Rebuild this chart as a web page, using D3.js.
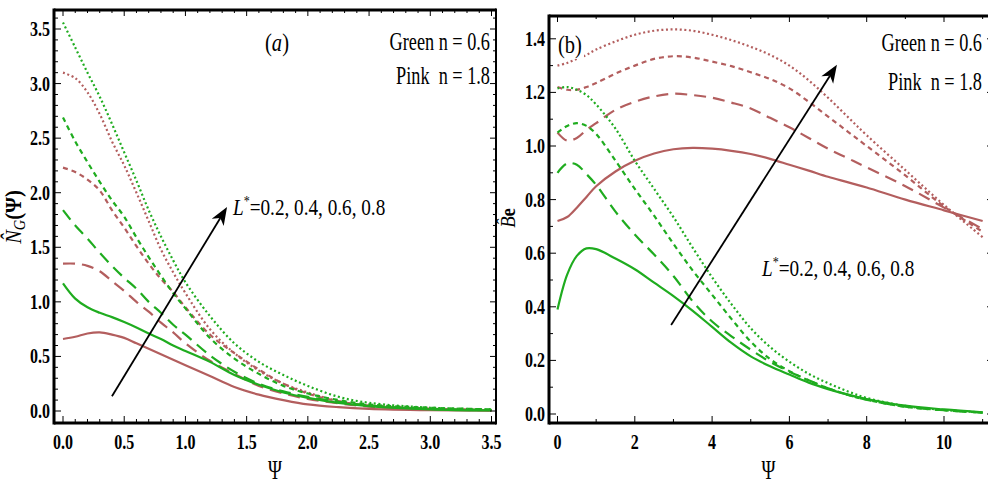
<!DOCTYPE html>
<html>
<head>
<meta charset="utf-8">
<script src="https://cdn.jsdelivr.net/npm/d3@7"></script>
<style>
  body { margin: 0; background: #fff; }
  svg { display: block; }
</style>
</head>
<body>
<div id="chart"></div>
<script>
// ---- panel (a): entropy generation N_G vs psi ----
var psiA = [0, 0.1, 0.2, 0.3, 0.4, 0.5, 0.6, 0.7, 0.8, 0.9, 1.0, 1.2, 1.4, 1.6, 1.8, 2.0, 2.25, 2.5, 3.0, 3.5];
var ngGreen02 = [1.17, 1.03, 0.95, 0.90, 0.86, 0.815, 0.765, 0.71, 0.66, 0.60, 0.55, 0.45, 0.33, 0.24, 0.17, 0.12, 0.075, 0.045, 0.015, 0.005];
var ngGreen04 = [1.84, 1.70, 1.58, 1.45, 1.33, 1.22, 1.12, 1.00, 0.90, 0.79, 0.70, 0.51, 0.36, 0.25, 0.18, 0.13, 0.085, 0.05, 0.02, 0.01];
var ngGreen06 = [2.69, 2.47, 2.28, 2.10, 1.93, 1.78, 1.59, 1.41, 1.24, 1.08, 0.94, 0.67, 0.48, 0.34, 0.23, 0.16, 0.10, 0.06, 0.03, 0.015];
var ngGreen08 = [3.56, 3.33, 3.10, 2.88, 2.63, 2.37, 2.11, 1.84, 1.60, 1.38, 1.18, 0.87, 0.62, 0.45, 0.33, 0.23, 0.13, 0.075, 0.03, 0.015];
var ngPink02 = [0.66, 0.68, 0.71, 0.72, 0.70, 0.67, 0.62, 0.57, 0.52, 0.47, 0.42, 0.32, 0.22, 0.15, 0.10, 0.06, 0.035, 0.02, 0.008, 0.003];
var ngPink04 = [1.35, 1.35, 1.33, 1.28, 1.19, 1.10, 1.00, 0.91, 0.81, 0.72, 0.62, 0.46, 0.34, 0.23, 0.16, 0.11, 0.07, 0.04, 0.015, 0.006];
var ngPink06 = [2.23, 2.19, 2.12, 2.02, 1.84, 1.68, 1.51, 1.35, 1.21, 1.09, 0.95, 0.70, 0.53, 0.38, 0.25, 0.16, 0.09, 0.05, 0.02, 0.008];
var ngPink08 = [3.10, 3.05, 2.92, 2.72, 2.47, 2.25, 2.00, 1.74, 1.48, 1.27, 1.08, 0.75, 0.53, 0.37, 0.25, 0.17, 0.09, 0.05, 0.02, 0.008];

// ---- panel (b): Bejan number vs psi ----
var psiB = [0, 0.25, 0.5, 0.75, 1, 1.5, 2, 2.5, 3, 3.5, 4, 4.5, 5, 5.5, 6, 6.5, 7, 7.5, 8, 9, 10, 11];
var beGreen02 = [0.39, 0.52, 0.59, 0.618, 0.615, 0.58, 0.54, 0.49, 0.44, 0.385, 0.325, 0.265, 0.215, 0.178, 0.147, 0.117, 0.093, 0.073, 0.056, 0.031, 0.017, 0.006];
var beGreen04 = [0.90, 0.935, 0.93, 0.895, 0.855, 0.755, 0.67, 0.595, 0.515, 0.42, 0.345, 0.29, 0.24, 0.195, 0.158, 0.126, 0.096, 0.072, 0.053, 0.027, 0.014, 0.005];
var beGreen06 = [1.05, 1.075, 1.085, 1.075, 1.045, 0.945, 0.84, 0.74, 0.635, 0.535, 0.445, 0.355, 0.27, 0.205, 0.16, 0.125, 0.096, 0.072, 0.053, 0.027, 0.014, 0.005];
var beGreen08 = [1.215, 1.22, 1.21, 1.19, 1.155, 1.065, 0.945, 0.84, 0.735, 0.62, 0.51, 0.41, 0.32, 0.25, 0.195, 0.15, 0.115, 0.085, 0.06, 0.03, 0.015, 0.006];
var bePink02 = [0.72, 0.735, 0.77, 0.81, 0.85, 0.905, 0.945, 0.972, 0.988, 0.993, 0.99, 0.982, 0.97, 0.952, 0.93, 0.908, 0.885, 0.865, 0.845, 0.80, 0.76, 0.72];
var bePink04 = [1.05, 1.02, 1.03, 1.06, 1.085, 1.135, 1.165, 1.185, 1.195, 1.19, 1.18, 1.162, 1.14, 1.105, 1.07, 1.03, 0.99, 0.955, 0.92, 0.85, 0.77, 0.69];
var bePink06 = [1.22, 1.21, 1.21, 1.22, 1.235, 1.27, 1.30, 1.325, 1.335, 1.33, 1.315, 1.298, 1.275, 1.25, 1.215, 1.165, 1.11, 1.055, 1.0, 0.89, 0.775, 0.68];
var bePink08 = [1.30, 1.31, 1.325, 1.34, 1.36, 1.39, 1.415, 1.43, 1.435, 1.43, 1.415, 1.395, 1.37, 1.34, 1.30, 1.245, 1.18, 1.11, 1.04, 0.91, 0.78, 0.66];

// ticks
var xTicksA = [0, 0.5, 1.0, 1.5, 2.0, 2.5, 3.0, 3.5];
var yTicksA = [0, 0.5, 1.0, 1.5, 2.0, 2.5, 3.0, 3.5];
var xTicksB = [0, 2, 4, 6, 8, 10];
var yTicksB = [0, 0.2, 0.4, 0.6, 0.8, 1.0, 1.2, 1.4];

// annotation texts and arrow ends (data coords)
var legendLines = ["Green n = 0.6", "Pink  n = 1.8"];
var lValues = "=0.2, 0.4, 0.6, 0.8";
var arrowA = [[0.40, 0.135], [1.34, 1.87]];
var arrowB = [[2.94, 0.332], [7.23, 1.303]];

var green = "#1fac1f", pink = "#b35e5e";
var serif = "'Liberation Serif', 'Times New Roman', serif";
// L* = 0.2 solid, 0.4 long dash, 0.6 short dash, 0.8 dotted
var dashes = [null, "12,7", "5,4", "2,2.6"];

var width = 988, height = 485;
var svg = d3.select("#chart").append("svg")
    .attr("width", width)
    .attr("height", height)
    .style("background", "#fff");

function txt(parent, x, y, str, o) {
  o = o || {};
  var g = parent.append("g").attr("transform", "translate(" + x + "," + y + ")" + (o.rotate ? " rotate(" + o.rotate + ")" : ""));
  var t = g.append("text")
    .attr("transform", "scale(" + (o.sx || 0.8) + ",1)")
    .attr("text-anchor", o.anchor || "start")
    .style("font-family", serif)
    .style("font-size", (o.size || 19) + "px")
    .style("font-weight", o.bold ? "bold" : "normal")
    .style("font-style", o.italic ? "italic" : "normal")
    .attr("fill", "#000");
  if (str != null) t.text(str);
  return t;
}

function drawPanel(p) {
  var x = d3.scaleLinear().domain(p.xDomain).range(p.xRange);
  var y = d3.scaleLinear().domain(p.yDomain).range(p.yRange);
  var g = svg.append("g");

  var line = d3.line()
    .x(function(d) { return x(d[0]); })
    .y(function(d) { return y(d[1]); })
    .curve(d3.curveCatmullRom.alpha(0.5));

  // curves
  p.series.forEach(function(s) {
    g.append("path")
      .datum(p.psi.map(function(v, i) { return [v, s.values[i]]; }))
      .attr("d", line)
      .attr("fill", "none")
      .attr("stroke", s.color)
      .attr("stroke-width", 2.2)
      .attr("stroke-dasharray", dashes[s.style]);
  });

  var f = p.frame;
  // ticks (inside the frame)
  var xMinor = d3.range(p.xMinor[0], p.xMinor[1] + 1e-9, p.xMinor[2]);
  var yMinor = d3.range(p.yMinor[0], p.yMinor[1] + 1e-9, p.yMinor[2]);
  xMinor.forEach(function(v) {
    var major = p.xTicks.some(function(t) { return Math.abs(t - v) < 1e-6; });
    var len = major ? 7 : 4;
    g.append("line").attr("x1", x(v)).attr("x2", x(v))
      .attr("y1", f.bottom).attr("y2", f.bottom - len)
      .attr("stroke", "#000").attr("stroke-width", 1);
    g.append("line").attr("x1", x(v)).attr("x2", x(v))
      .attr("y1", f.top).attr("y2", f.top + len - 1)
      .attr("stroke", "#000").attr("stroke-width", 1);
  });
  yMinor.forEach(function(v) {
    var major = p.yTicks.some(function(t) { return Math.abs(t - v) < 1e-6; });
    var len = major ? 7 : 4;
    g.append("line").attr("y1", y(v)).attr("y2", y(v))
      .attr("x1", f.left).attr("x2", f.left + len)
      .attr("stroke", "#000").attr("stroke-width", 1);
    g.append("line").attr("y1", y(v)).attr("y2", y(v))
      .attr("x1", f.right).attr("x2", f.right - len + 1)
      .attr("stroke", "#000").attr("stroke-width", 1);
  });

  // frame
  g.append("line").attr("x1", f.left).attr("x2", f.right).attr("y1", f.top).attr("y2", f.top)
    .attr("stroke", "#000").attr("stroke-width", 3);
  g.append("line").attr("x1", f.left).attr("x2", f.right).attr("y1", f.bottom).attr("y2", f.bottom)
    .attr("stroke", "#000").attr("stroke-width", 3);
  g.append("line").attr("x1", f.left).attr("x2", f.left).attr("y1", f.top - 1.5).attr("y2", f.bottom + 1.5)
    .attr("stroke", "#000").attr("stroke-width", 3);
  g.append("line").attr("x1", f.right).attr("x2", f.right).attr("y1", f.top - 1.5).attr("y2", f.bottom + 1.5)
    .attr("stroke", "#000").attr("stroke-width", 2);

  // tick labels
  p.xTicks.forEach(function(v) {
    txt(g, x(v), 449, p.xFormat(v), { anchor: "middle", bold: true, size: 20, sx: 0.8 });
  });
  p.yTicks.forEach(function(v) {
    txt(g, f.left - 4, y(v) + 7, p.yFormat(v), { anchor: "end", bold: true, size: 20, sx: 0.8 });
  });

  // axis title
  txt(g, (f.left + Math.min(f.right, width)) / 2, 479, "Ψ", { anchor: "middle", size: 27, sx: 0.7 });

  // arrow
  var a0 = [x(p.arrow[0][0]), y(p.arrow[0][1])], a1 = [x(p.arrow[1][0]), y(p.arrow[1][1])];
  var ang = Math.atan2(a1[1] - a0[1], a1[0] - a0[0]);
  var hl = 18, hw = 7;
  var ux = Math.cos(ang), uy = Math.sin(ang);
  var base = [a1[0] - ux * hl, a1[1] - uy * hl];
  var notch = [a1[0] - ux * hl * 0.72, a1[1] - uy * hl * 0.72];
  g.append("line").attr("x1", a0[0]).attr("y1", a0[1])
    .attr("x2", notch[0]).attr("y2", notch[1])
    .attr("stroke", "#000").attr("stroke-width", 1.8);
  g.append("path")
    .attr("d", "M" + a1 + "L" + [base[0] - uy * hw, base[1] + ux * hw] + "L" + notch + "L" + [base[0] + uy * hw, base[1] - ux * hw] + "Z")
    .attr("fill", "#000");

  return { x: x, y: y, g: g };
}

function makeSeries(g02, g04, g06, g08, p02, p04, p06, p08) {
  return [
    { values: p02, color: pink, style: 0 },
    { values: p04, color: pink, style: 1 },
    { values: p06, color: pink, style: 2 },
    { values: p08, color: pink, style: 3 },
    { values: g02, color: green, style: 0 },
    { values: g04, color: green, style: 1 },
    { values: g06, color: green, style: 2 },
    { values: g08, color: green, style: 3 }
  ];
}

var fmt1 = d3.format(".1f"), fmt0 = d3.format("d");

// panel (a)
var pa = drawPanel({
  psi: psiA,
  series: makeSeries(ngGreen02, ngGreen04, ngGreen06, ngGreen08, ngPink02, ngPink04, ngPink06, ngPink08),
  xDomain: [0, 3.5], xRange: [63, 491.5],
  yDomain: [0, 3.5], yRange: [411, 29],
  frame: { left: 54, right: 496, top: 10, bottom: 423 },
  xTicks: xTicksA, yTicks: yTicksA,
  xMinor: [0, 3.5, 0.1], yMinor: [0, 3.6, 0.1],
  xFormat: fmt1, yFormat: fmt1,
  arrow: arrowA
});

// panel (b)
var pb = drawPanel({
  psi: psiB,
  series: makeSeries(beGreen02, beGreen04, beGreen06, beGreen08, bePink02, bePink04, bePink06, bePink08),
  xDomain: [0, 10], xRange: [557.5, 944],
  yDomain: [0, 1.4], yRange: [414, 38.8],
  frame: { left: 549, right: 993, top: 16, bottom: 423 },
  xTicks: xTicksB, yTicks: yTicksB,
  xMinor: [0, 11, 1], yMinor: [0, 1.4, 0.1],
  xFormat: fmt0, yFormat: fmt1,
  arrow: arrowB
});

// ---- annotations panel (a) ----
var ta = txt(pa.g, 277, 51, null, { anchor: "middle", size: 25, sx: 0.82 });
ta.append("tspan").text("(");
ta.append("tspan").style("font-style", "italic").text("a");
ta.append("tspan").text(")");
txt(pa.g, 490, 50, legendLines[0], { anchor: "end", size: 25, sx: 0.73 });
txt(pa.g, 490, 84, legendLines[1], { anchor: "end", size: 25, sx: 0.73 }).style("white-space", "pre");
var la = txt(pa.g, 233, 215, null, { size: 24, sx: 0.8 });
la.append("tspan").style("font-style", "italic").text("L");
la.append("tspan").attr("dy", -9).style("font-size", "15px").text("*");
la.append("tspan").attr("dy", 9).text(lValues);

// y title (a)
var ya = txt(pa.g, 21, 217, null, { anchor: "middle", size: 24, sx: 0.85, rotate: -90 });
ya.append("tspan").style("font-style", "italic").text("N\u0302");
ya.append("tspan").style("font-style", "italic").style("font-size", "17px").attr("dy", 4).text("G");
ya.append("tspan").attr("dy", -4).style("font-weight", "bold").text("(Ψ)");

// ---- annotations panel (b) ----
pb.g.append("rect").attr("x", 556).attr("y", 31).attr("width", 28).attr("height", 28).attr("fill", "#fff");
txt(pb.g, 570, 53, "(b)", { anchor: "middle", size: 25, sx: 0.82 });
txt(pb.g, 982, 51, legendLines[0], { anchor: "end", size: 25, sx: 0.73 });
txt(pb.g, 982, 90, legendLines[1], { anchor: "end", size: 25, sx: 0.73 }).style("white-space", "pre");
var lb = txt(pb.g, 762, 276, null, { size: 24, sx: 0.8 });
lb.append("tspan").style("font-style", "italic").text("L");
lb.append("tspan").attr("dy", -9).style("font-size", "15px").text("*");
lb.append("tspan").attr("dy", 9).text(lValues);

// y title (b)
var yb = txt(pb.g, 515, 218, null, { anchor: "middle", size: 22, sx: 0.85, rotate: -90 });
yb.append("tspan").style("font-style", "italic").text("B\u0302");
yb.append("tspan").style("font-weight", "bold").text("e");
</script>
</body>
</html>
